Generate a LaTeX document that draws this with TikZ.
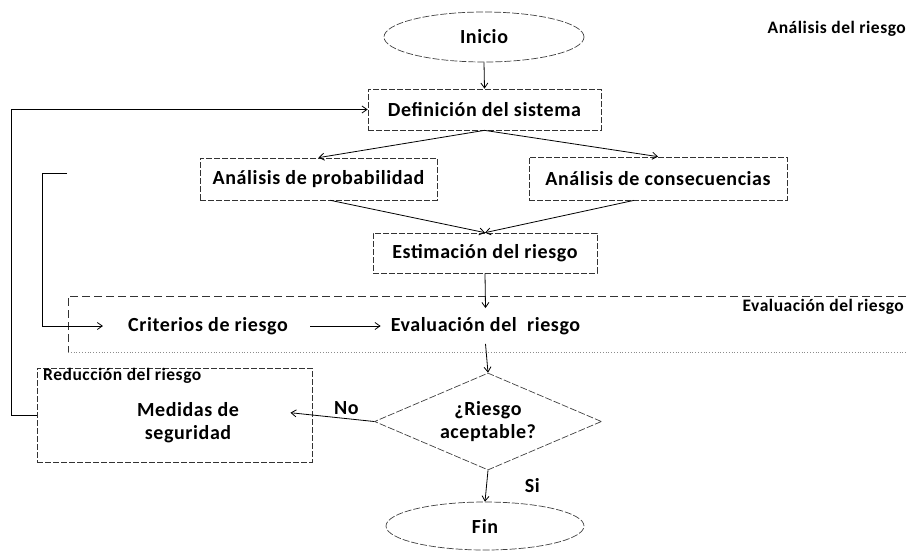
\documentclass[tikz,border=0pt]{standalone}
\usepackage{fontspec}
\setmainfont{Carlito}[LetterSpace=3]
\usetikzlibrary{shapes.geometric,arrows.meta,calc}
\begin{document}
\begin{tikzpicture}[x=1pt,y=-1pt,
  every node/.style={font=\fontsize{20}{23}\selectfont\bfseries},
  lbl/.style={font=\fontsize{17.5}{20}\selectfont\bfseries},
  pbox/.style={draw=black!80,dashed,dash pattern=on 6pt off 2pt,line width=0.7pt,rectangle,inner sep=0pt},
  term/.style={draw=black!75,dashed,dash pattern=on 7pt off 2pt,line width=0.7pt,ellipse,inner sep=0pt},
  txt/.style={inner sep=0pt},
  arr/.style={-{Straight Barb[length=5pt,width=7pt]},line width=0.8pt,black},
  region/.style={draw=black!80,dashed,dash pattern=on 8pt off 4pt,line width=0.8pt}
]
\useasboundingbox (0,0) rectangle (908,550);

% nodes
\node[term,minimum width=200pt,minimum height=50pt] (inicio) at (484,37) {Inicio};
\node[pbox,minimum width=233pt,minimum height=41pt] (def) at (484.5,109.5) {Definición del sistema};
\node[pbox,minimum width=237pt,minimum height=42pt] (prob) at (318.5,179) {Análisis de probabilidad};
\node[pbox,minimum width=258pt,minimum height=43pt] (cons) at (658,178.5) {Análisis de consecuencias};
\node[pbox,minimum width=224pt,minimum height=40pt] (est) at (485,253) {Estimación del riesgo};

% evaluation region
\draw[region] (906,296) -- (68,296) -- (68,352);
\draw[black!45,dotted,line width=0.8pt] (68,352) -- (906,352);
\node[lbl,anchor=east,inner sep=0pt] (evlbl) at (904,307) {Evaluación del riesgo};

\node[txt] (crit) at (208,326) {Criterios de riesgo};
\node[inner xsep=0pt,inner ysep=9pt] (evalr) at (485.5,326) {Evaluación del\ \ riesgo};

\node[draw=black!75,dashed,dash pattern=on 7pt off 2pt,line width=0.7pt,diamond,aspect=2.34,minimum width=227pt,minimum height=97pt,inner sep=0pt,align=center] (dia) at (488,421.5) {¿Riesgo\\aceptable?};

\node[pbox,minimum width=275pt,minimum height=94pt] (red) at (174.5,415) {};
\node[lbl,anchor=west,inner sep=0pt] (redlbl) at (43,376) {Reducción del riesgo};
\node[txt,align=center] (med) at (188,423) {Medidas de\\seguridad};

\node[term,minimum width=198pt,minimum height=48pt] (fin) at (485,526) {Fin};

\node[lbl,anchor=east,inner sep=0pt] (anlbl) at (906,29) {Análisis del riesgo};

% connectors
\draw[arr] (inicio.south) -- (def.north);
\draw[arr] (def.south) -- (prob.north);
\draw[arr] (def.south) -- (cons.north);
\draw[arr] ([xshift=12pt]prob.south) -- (est.north);
\draw[arr] ([xshift=-24pt]cons.south) -- (est.north);
\draw[arr] (est.south) -- (evalr.north);
\draw[arr,shorten <=22pt,shorten >=10pt] (crit.east) -- (evalr.west);
\draw[arr] (evalr.south) -- (dia.north);
\draw[arr,shorten >=-22pt] (dia.west) -- node[above=4pt,inner sep=0pt,pos=0.45] (no) {No} (red.east);
\draw[arr] (dia.south) -- node[right=38pt,inner sep=0pt] (si) {Si} (fin.north);

\draw[arr] (red.west) -- ++(-25,0) |- (def.west);
\coordinate (fb2) at (67,173);
\draw[arr,shorten >=25pt] (fb2) -- (42,173) |- (crit.west);
\end{tikzpicture}
\end{document}
